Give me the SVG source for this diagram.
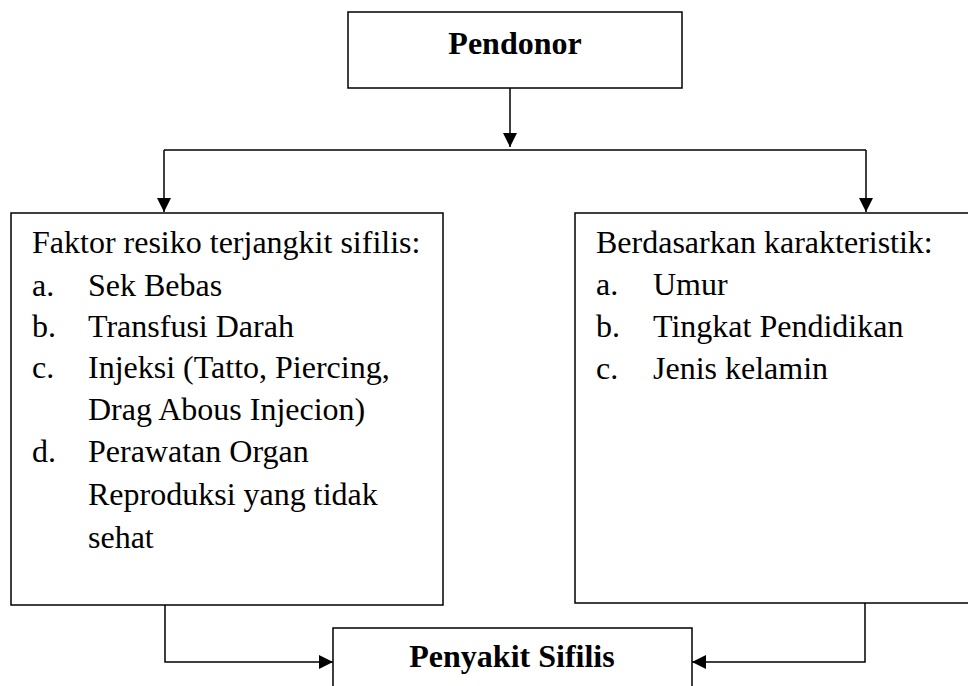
<svg xmlns="http://www.w3.org/2000/svg" width="968" height="686" viewBox="0 0 968 686">
<defs>
<style>
.box{fill:#fff;stroke:#000;stroke-width:1.5}
.conn{fill:none;stroke:#000;stroke-width:1.5}
.t{font-family:"Liberation Serif","Times New Roman",serif;font-size:32px;fill:#000}
.b{font-weight:bold;text-anchor:middle}
</style>
<marker id="arr" viewBox="0 0 10 10" refX="10" refY="5" markerWidth="10" markerHeight="10" markerUnits="userSpaceOnUse" orient="auto">
<path d="M0,0 L10,5 L0,10 Z" fill="#000"/>
</marker>
<marker id="arrL" viewBox="0 0 14 14" refX="14" refY="7" markerWidth="14" markerHeight="14" markerUnits="userSpaceOnUse" orient="auto">
<path d="M0,0 L14,7 L0,14 Z" fill="#000"/>
</marker>
</defs>
<rect width="968" height="686" fill="#fff"/>
<g id="connectors">
<path class="conn" d="M510,88 V147" marker-end="url(#arrL)"/>
<path class="conn" d="M164,150 H866"/>
<path class="conn" d="M164,150 V212" marker-end="url(#arrL)"/>
<path class="conn" d="M866,150 V212" marker-end="url(#arrL)"/>
<path class="conn" d="M165,605 V662 H333" marker-end="url(#arrL)"/>
<path class="conn" d="M865,598 V662 H692" marker-end="url(#arrL)"/>
</g>
<g id="pendonor">
<rect class="box" x="348" y="12" width="334" height="76"/>
<text class="t b" x="515" y="54">Pendonor</text>
</g>
<g id="faktor">
<rect class="box" x="11" y="213" width="432" height="392"/>
<text class="t" x="32" y="253">Faktor resiko terjangkit sifilis:</text>
<text class="t" x="32" y="296">a.</text><text class="t" x="88" y="296">Sek Bebas</text>
<text class="t" x="32" y="337">b.</text><text class="t" x="88" y="337">Transfusi Darah</text>
<text class="t" x="32" y="378">c.</text><text class="t" x="88" y="378">Injeksi (Tatto, Piercing,</text>
<text class="t" x="88" y="420">Drag Abous Injecion)</text>
<text class="t" x="32" y="462">d.</text><text class="t" x="88" y="462">Perawatan Organ</text>
<text class="t" x="88" y="505">Reproduksi yang tidak</text>
<text class="t" x="88" y="548">sehat</text>
</g>
<g id="karakteristik">
<rect class="box" x="575" y="213" width="410" height="390"/>
<text class="t" x="596" y="253">Berdasarkan karakteristik:</text>
<text class="t" x="596" y="295">a.</text><text class="t" x="653" y="295">Umur</text>
<text class="t" x="596" y="337">b.</text><text class="t" x="653" y="337">Tingkat Pendidikan</text>
<text class="t" x="596" y="379">c.</text><text class="t" x="653" y="379">Jenis kelamin</text>
</g>
<g id="sifilis">
<rect class="box" x="333" y="628" width="359" height="80"/>
<text class="t b" x="512" y="667">Penyakit Sifilis</text>
</g>
</svg>
